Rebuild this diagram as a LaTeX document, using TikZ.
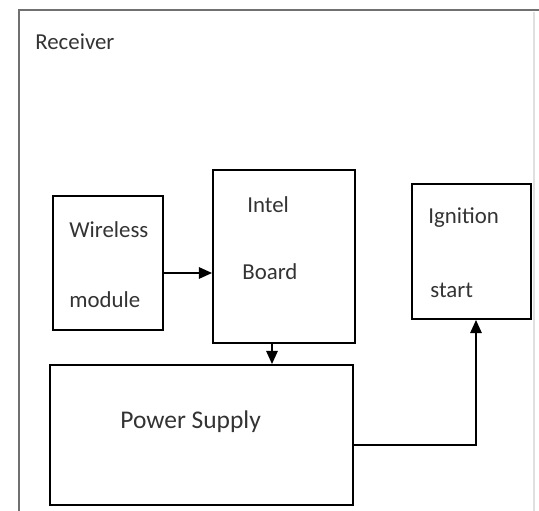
\documentclass[tikz,border=0pt]{standalone}
\usepackage{fontspec}
\setmainfont{Carlito}
\usetikzlibrary{arrows.meta}
\definecolor{frame-grey}{HTML}{707070}
\definecolor{label-ink}{HTML}{333333}

\begin{document}
\begin{tikzpicture}[x=0.02cm, y=-0.02cm,
        every node/.style={font=\fontsize{13}{15}\selectfont},
        block/.style={draw=black, line width=1.1pt, inner sep=0pt},
        caption/.style={anchor=west, inner sep=0pt, text=label-ink},
        link/.style={-{Triangle[length=7.5pt,width=6.5pt]}, line width=1pt}]
      \useasboundingbox (0,0) rectangle (539,511);
      \draw[frame-grey, line width=1.7pt] (19,511) -- (19,10) -- (539,10);
      \draw[black!12, line width=0.8pt] (534,12) -- (534,511);
      \node[caption] (receiver) at (35,42) {Receiver};
      \node[block, minimum width=2.2cm, minimum height=2.68cm] (wireless) at (108,263) {};
      \node[caption] (wirelessA) at (69,230) {Wireless};
      \node[caption] (wirelessB) at (69,300) {module};
      \node[block, minimum width=2.84cm, minimum height=3.46cm] (intel) at (284,256.5) {};
      \node[caption] (intelA) at (247,205) {Intel};
      \node[caption] (intelB) at (242,272) {Board};
      \node[block, minimum width=2.38cm, minimum height=2.7cm] (ignition) at (471.5,251.5) {};
      \node[caption] (ignitionA) at (428,218) {Ignition};
      \node[caption] (ignitionB) at (430,290) {start};
      \node[block, minimum width=6.06cm, minimum height=2.8cm] (power) at (201.5,435) {};
      \node[caption, font=\fontsize{14.5}{17}\selectfont] (powerA) at (120,422) {Power Supply};
      \draw[link] ([yshift=-0.2cm]wireless.east) -- ([yshift=-0.2cm]wireless.east -| intel.west);
      \draw[link] ([xshift=-0.24cm]intel.south) -- ([xshift=-0.24cm]intel.south |- power.north);
      \draw[link] ([yshift=-0.2cm]power.east) -| ([xshift=0.09cm]ignition.south);
    \end{tikzpicture}
\end{document}
